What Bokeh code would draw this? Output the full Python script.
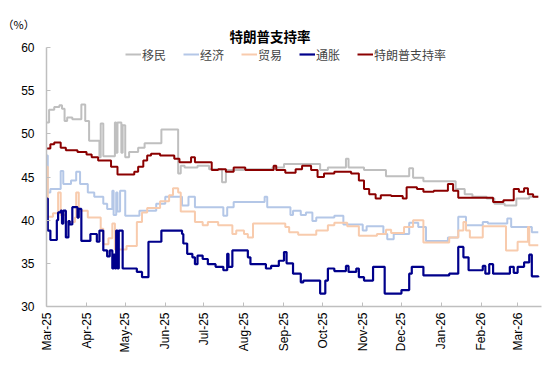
import pandas as pd
from bokeh.plotting import figure
from bokeh.models import (Range1d, FixedTicker, DatetimeTickFormatter,
                          Legend, LegendItem, Title, ColumnDataSource)
from bokeh.embed import file_html
from bokeh.resources import INLINE

# ---------------- data ----------------
tick_months = ["2025-03-01", "2025-04-01", "2025-05-01", "2025-06-01", "2025-07-01",
               "2025-08-01", "2025-09-01", "2025-10-01", "2025-11-01", "2025-12-01",
               "2026-01-01", "2026-02-01", "2026-03-01"]
y_ticks = [30, 35, 40, 45, 50, 55, 60]

imm_dates = ["2025-03-01", "2025-03-03", "2025-03-07", "2025-03-11", "2025-03-13", "2025-03-15",
             "2025-03-17", "2025-03-21", "2025-03-28", "2025-03-31", "2025-04-03", "2025-04-11",
             "2025-04-12", "2025-04-14", "2025-04-23", "2025-04-24", "2025-04-25", "2025-04-28",
             "2025-04-29", "2025-05-01", "2025-05-04", "2025-05-11", "2025-05-16", "2025-05-29",
             "2025-06-11", "2025-06-13", "2025-06-16", "2025-06-26", "2025-07-05", "2025-07-15",
             "2025-07-18", "2025-08-01", "2025-08-23", "2025-09-01", "2025-09-29", "2025-10-05",
             "2025-10-19", "2025-10-21", "2025-11-02", "2025-11-19", "2025-12-07", "2025-12-10",
             "2025-12-18", "2026-01-12", "2026-01-19", "2026-01-25", "2026-02-05", "2026-02-11",
             "2026-02-19", "2026-02-28", "2026-03-10", "2026-03-17"]
imm_vals = [51.3, 52.8, 53.1, 53.3, 52.9, 51.5,
            51.9, 51.7, 53.4, 51.5, 49.2, 47.3,
            51.2, 47.4, 51.3, 47.8, 51.3, 47.8,
            51.0, 47.3, 47.9, 48.4, 48.9, 50.5,
            45.4, 46.3, 46.1, 46.3, 45.9, 44.4,
            45.8, 45.9, 46.1, 46.5, 45.8, 46.1,
            47.1, 46.1, 45.8, 45.1, 46.0, 44.9,
            44.5, 43.6, 43.0, 42.7, 42.5, 41.9,
            41.7, 42.5, 42.7, 42.7]

eco_dates = ["2025-03-01", "2025-03-02", "2025-03-04", "2025-03-12", "2025-03-14", "2025-03-20",
             "2025-03-24", "2025-03-27", "2025-04-02", "2025-04-07", "2025-04-14", "2025-04-17",
             "2025-04-21", "2025-04-22", "2025-04-24", "2025-04-25", "2025-04-27", "2025-05-01",
             "2025-05-12", "2025-05-25", "2025-06-01", "2025-06-14", "2025-06-19", "2025-06-24",
             "2025-07-16", "2025-07-19", "2025-07-24", "2025-08-17", "2025-08-19", "2025-09-06",
             "2025-09-08", "2025-09-14", "2025-09-18", "2025-09-23", "2025-09-26", "2025-10-10",
             "2025-10-17", "2025-11-01", "2025-11-04", "2025-11-17", "2025-11-20", "2025-11-25",
             "2025-12-07", "2025-12-14", "2025-12-20", "2026-01-06", "2026-01-14", "2026-01-20",
             "2026-02-02", "2026-02-06", "2026-02-21", "2026-02-24", "2026-03-12", "2026-03-17"]
eco_vals = [47.5, 43.2, 43.6, 45.7, 44.2, 44.6,
            45.6, 44.2, 43.2, 42.7, 41.9, 41.3,
            43.4, 40.6, 43.2, 41.0, 43.4, 40.5,
            41.1, 41.9, 42.7, 41.7, 42.7, 41.5,
            40.5, 41.5, 42.1, 42.7, 41.5, 40.6,
            41.1, 40.6, 40.9, 39.9, 40.3, 40.5,
            39.5, 38.8, 39.3, 38.4, 37.8, 38.4,
            39.7, 39.2, 37.6, 38.0, 40.4, 39.4,
            39.8, 39.6, 40.2, 39.2, 38.6, 38.6]

trade_dates = ["2025-03-01", "2025-03-02", "2025-03-06", "2025-03-10", "2025-03-12", "2025-03-16",
               "2025-03-23", "2025-03-24", "2025-03-26", "2025-04-02", "2025-04-12", "2025-04-14",
               "2025-04-18", "2025-04-21", "2025-04-23", "2025-05-02", "2025-05-10", "2025-05-14",
               "2025-05-18", "2025-05-28", "2025-06-04", "2025-06-07", "2025-06-11", "2025-06-13",
               "2025-06-24", "2025-06-30", "2025-07-04", "2025-07-12", "2025-07-23", "2025-07-26",
               "2025-08-01", "2025-08-04", "2025-08-08", "2025-09-02", "2025-09-05", "2025-09-12",
               "2025-09-26", "2025-10-05", "2025-10-10", "2025-10-20", "2025-10-29", "2025-11-12",
               "2025-11-19", "2025-11-23", "2025-12-03", "2025-12-10", "2025-12-18", "2026-01-07",
               "2026-01-14", "2026-01-18", "2026-01-20", "2026-01-23", "2026-02-02", "2026-02-20",
               "2026-03-01", "2026-03-09", "2026-03-10", "2026-03-17"]
trade_vals = [46.2, 40.4, 40.8, 43.2, 40.6, 39.8,
              40.3, 43.2, 41.1, 40.3, 39.0, 37.2,
              37.9, 39.6, 36.6, 37.0, 39.8, 40.9,
              41.4, 42.2, 42.9, 43.7, 43.2, 41.0,
              39.8, 39.4, 39.8, 39.4, 38.4, 38.8,
              38.4, 38.0, 39.6, 39.2, 38.6, 38.3,
              38.8, 39.4, 39.7, 39.3, 38.2, 38.4,
              38.9, 38.5, 39.2, 40.0, 37.4, 38.0,
              38.8, 39.8, 38.8, 38.0, 39.3, 36.5,
              37.5, 39.2, 37.1, 37.1]

inf_dates = ["2025-03-01", "2025-03-02", "2025-03-04", "2025-03-09", "2025-03-10", "2025-03-12",
             "2025-03-13", "2025-03-14", "2025-03-16", "2025-03-18", "2025-03-19", "2025-03-21",
             "2025-03-25", "2025-03-26", "2025-03-28", "2025-04-04", "2025-04-09", "2025-04-11",
             "2025-04-14", "2025-04-17", "2025-04-19", "2025-04-21", "2025-04-22", "2025-04-23",
             "2025-04-24", "2025-04-25", "2025-04-26", "2025-04-29", "2025-05-10", "2025-05-14",
             "2025-05-19", "2025-05-29", "2025-06-14", "2025-06-15", "2025-06-18", "2025-06-22",
             "2025-06-24", "2025-06-26", "2025-06-30", "2025-07-04", "2025-07-10", "2025-07-16",
             "2025-07-19", "2025-07-20", "2025-07-23", "2025-08-04", "2025-08-06", "2025-08-18",
             "2025-08-22", "2025-08-28", "2025-09-01", "2025-09-03", "2025-09-08", "2025-09-14",
             "2025-09-16", "2025-09-29", "2025-10-03", "2025-10-05", "2025-10-10", "2025-10-19",
             "2025-10-21", "2025-10-27", "2025-10-29", "2025-11-02", "2025-11-09", "2025-11-18",
             "2025-12-01", "2025-12-07", "2025-12-09", "2025-12-18", "2026-01-07", "2026-01-14",
             "2026-01-18", "2026-01-22", "2026-02-02", "2026-02-04", "2026-02-07", "2026-02-10",
             "2026-02-23", "2026-02-26", "2026-03-01", "2026-03-06", "2026-03-10", "2026-03-12",
             "2026-03-17"]
inf_vals = [42.5, 38.8, 37.7, 40.0, 40.9, 41.1,
            39.6, 41.1, 38.0, 39.9, 39.5, 41.5,
            40.3, 41.3, 37.6, 38.4, 37.5, 38.8,
            36.5, 35.8, 36.5, 34.4, 36.0, 34.4,
            38.8, 34.4, 38.8, 34.4, 34.0, 33.4,
            37.5, 38.8, 38.4, 37.3, 36.1, 35.7,
            34.9, 35.9, 35.5, 34.9, 34.6, 34.2,
            36.1, 34.6, 36.5, 35.7, 34.9, 34.4,
            34.7, 35.3, 36.3, 35.0, 33.8, 32.8,
            33.0, 31.5, 33.0, 34.4, 34.1, 34.7,
            34.0, 34.4, 33.4, 33.0, 34.6, 31.5,
            31.9, 33.8, 34.6, 33.6, 33.8, 36.9,
            35.7, 34.2, 34.7, 33.8, 34.9, 33.8,
            34.6, 33.9, 34.6, 35.1, 36.0, 33.5,
            33.4]

appr_dates = ["2025-03-01", "2025-03-04", "2025-03-07", "2025-03-12", "2025-03-16", "2025-03-25",
              "2025-04-01", "2025-04-05", "2025-04-10", "2025-04-20", "2025-04-25", "2025-05-08",
              "2025-05-11", "2025-05-15", "2025-05-18", "2025-05-21", "2025-05-28", "2025-06-08",
              "2025-06-12", "2025-06-21", "2025-06-24", "2025-07-07", "2025-07-12", "2025-07-18",
              "2025-07-24", "2025-08-02", "2025-08-24", "2025-08-26", "2025-09-02", "2025-09-10",
              "2025-09-15", "2025-09-22", "2025-09-27", "2025-10-02", "2025-10-10", "2025-10-23",
              "2025-10-29", "2025-11-02", "2025-11-06", "2025-11-11", "2025-11-15", "2025-11-23",
              "2025-12-02", "2025-12-05", "2025-12-13", "2025-12-18", "2025-12-26", "2026-01-06",
              "2026-01-10", "2026-01-14", "2026-02-10", "2026-02-18", "2026-02-26", "2026-03-02",
              "2026-03-06", "2026-03-09", "2026-03-13", "2026-03-17"]
appr_vals = [48.3, 48.8, 49.0, 48.4, 48.1, 47.9,
             47.6, 47.3, 46.9, 46.2, 45.3, 45.6,
             46.2, 46.9, 47.5, 47.7, 47.5, 47.1,
             46.7, 47.3, 46.7, 45.8, 45.9, 45.6,
             46.1, 45.8, 46.3, 45.8, 45.5, 45.9,
             46.3, 45.8, 45.0, 45.4, 45.6, 45.4,
             44.6, 43.6, 43.0, 42.5, 42.9, 42.8,
             42.5, 43.8, 43.6, 43.3, 43.4, 44.2,
             43.4, 42.6, 42.1, 42.3, 43.6, 43.3,
             43.7, 43.0, 42.7, 42.7]

series = [
    ("移民", imm_dates, imm_vals, "#BFBFBF", 2.0),
    ("经济", eco_dates, eco_vals, "#B4C7E7", 2.0),
    ("贸易", trade_dates, trade_vals, "#F8CBAD", 2.0),
    ("通胀", inf_dates, inf_vals, "#00008B", 2.2),
    ("特朗普支持率", appr_dates, appr_vals, "#8B0000", 2.0),
]

# ---------------- figure ----------------
CJK = "Noto Sans CJK SC"
p = figure(width=550, height=366, output_backend="svg", toolbar_location=None,
           x_axis_type="datetime",
           x_range=Range1d(pd.Timestamp("2025-03-01"), pd.Timestamp("2026-03-19 12:00")),
           y_range=Range1d(30, 60),
           min_border_left=46, min_border_right=9, min_border_top=47, min_border_bottom=60)
p.outline_line_color = None
p.xgrid.visible = False
p.ygrid.visible = False
p.background_fill_color = "white"
p.border_fill_color = "white"

# unit label (outer row above the frame, pulled down next to the title)
p.title.text = "（%）"
p.title.align = "left"
p.title.offset = -44
p.title.text_font = CJK
p.title.text_font_size = "11px"
p.title.text_font_style = "normal"
p.title.text_color = "black"
p.title.standoff = -19

# chart title (row right above the frame)
main_title = Title(text="特朗普支持率", align="left", offset=183, text_font=CJK,
                   text_font_size="13.5px", text_font_style="bold", text_color="black",
                   standoff=3)
p.add_layout(main_title, "above")

items = []
for name, d, v, col, w in series:
    src = ColumnDataSource(dict(x=pd.to_datetime(d), y=v))
    r = p.step("x", "y", source=src, mode="after", line_color=col, line_width=w)
    items.append(LegendItem(label=name, renderers=[r]))

# axes
for ax in (p.xaxis[0], p.yaxis[0]):
    ax.axis_line_color = "#BFBFBF"
    ax.axis_line_width = 1.5
    ax.major_tick_line_color = "#BFBFBF"
    ax.major_tick_in = 4
    ax.major_tick_out = 0
    ax.minor_tick_line_color = None
    ax.major_label_text_font = "Liberation Sans"
    ax.major_label_text_font_size = "12px"
    ax.major_label_text_color = "black"

p.xaxis[0].ticker = FixedTicker(ticks=[pd.Timestamp(t).timestamp() * 1000 for t in tick_months])
fmt = "%b-%y"
p.xaxis[0].formatter = DatetimeTickFormatter(years=fmt, months=fmt, days=fmt, hours=fmt,
                                             minutes=fmt, seconds=fmt, milliseconds=fmt)
p.xaxis[0].major_label_orientation = 1.5707963
p.xaxis[0].major_label_standoff = 6
p.yaxis[0].ticker = FixedTicker(ticks=y_ticks)
p.yaxis[0].major_label_standoff = 12

legend = Legend(items=items, location=(79, 243), orientation="horizontal",
                glyph_width=16, glyph_height=12, label_standoff=1, spacing=17,
                label_text_font=CJK, label_text_font_size="12px", label_height=18,
                padding=0, margin=0, background_fill_alpha=0, border_line_alpha=0)
p.add_layout(legend)

open("out.html", "w").write(file_html(p, INLINE))
